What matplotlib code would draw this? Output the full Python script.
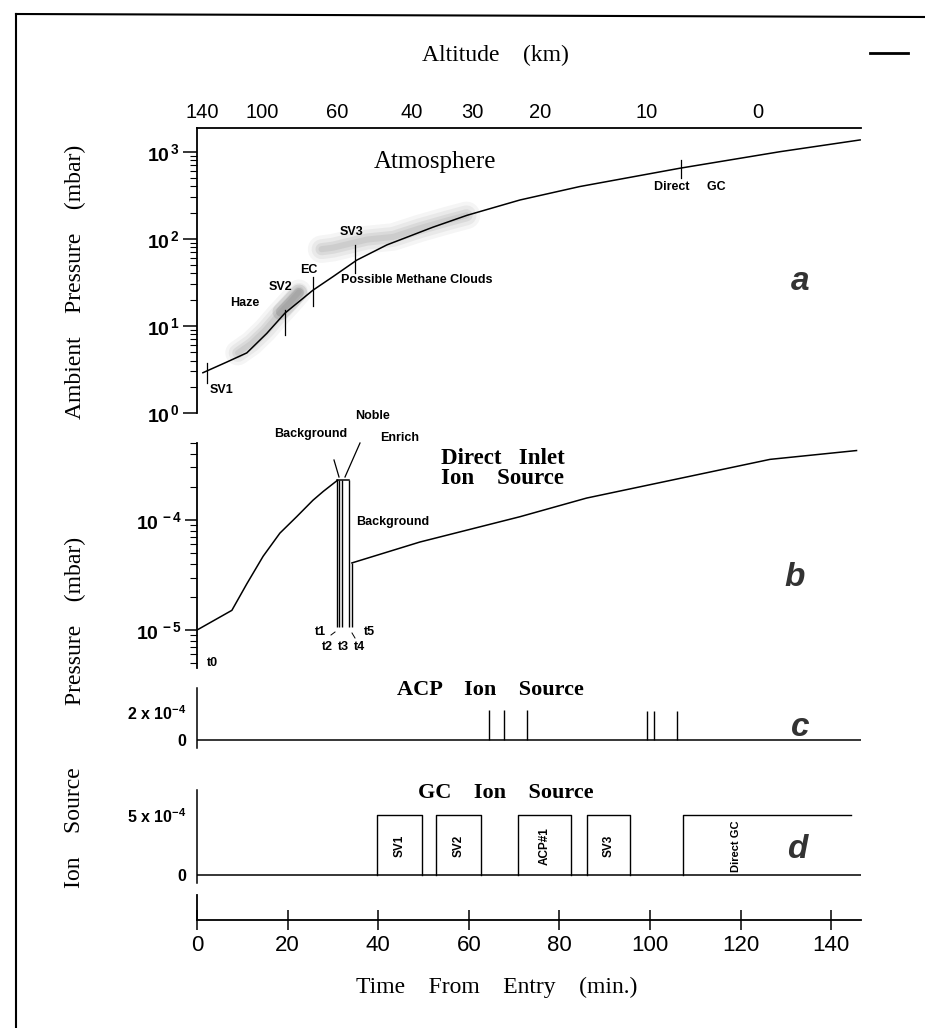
import numpy as np
import matplotlib
matplotlib.use('Agg')
import matplotlib.pyplot as plt
from matplotlib.lines import Line2D
from matplotlib.ticker import LogLocator, NullFormatter

# ---------------- data ----------------
time_ticks = [0, 20, 40, 60, 80, 100, 120, 140]

alt_km = [140, 100, 60, 40, 30, 20, 10, 0]
alt_time = [1.1, 14.3, 30.9, 47.5, 60.7, 75.7, 99.3, 123.8]

atm_time = [1.3, 6.6, 11.0, 15.4, 19.4, 25.6, 30.1, 35.3, 41.9, 52.1, 59.6,
            71.3, 84.5, 106.6, 128.7, 146.4]
atm_pres = [2.9, 3.85, 4.9, 8.2, 14.0, 25.7, 37, 57, 85, 136, 186,
            279, 398, 646, 1000, 1365]

atm_event_time = [2.2, 19.4, 25.6, 34.9, 106.8]
atm_event_up = [0.09, 0.04, 0.15, 0.19, 0.095]
atm_event_dn = [0.14, 0.25, 0.18, 0.13, 0.11]

haze_time = [9.0, 12.0, 15.0, 18.0, 20.5, 22.5]
haze_pres = [4.9, 6.3, 8.9, 13.5, 18.6, 24.5]
haze_dark_time = [18.5, 20.5, 22.5]
haze_dark_pres = [14.5, 18.6, 24.0]
methane_time = [27.5, 30.0, 37.5, 43.3, 49.2, 55.2, 59.5]
methane_pres = [76, 79, 98, 105, 132, 162, 186]

di_time = [0, 7.7, 11.0, 14.6, 18.3, 22.0, 25.6, 27.9, 31.0]
di_pres = [1.0e-5, 1.51e-5, 2.63e-5, 4.68e-5, 7.59e-5, 1.07e-4, 1.51e-4,
           1.82e-4, 2.29e-4]
comb_time = [31.0, 31.4, 32.0, 33.6]
comb_low = 1.07e-5
t5_time = 34.2
bg_time = [34.2, 49.2, 71.3, 86.0, 106.3, 126.5, 145.6]
bg_pres = [4.07e-5, 6.3e-5, 1.07e-4, 1.58e-4, 2.37e-4, 3.55e-4, 4.27e-4]

acp_time = [64.5, 67.8, 72.9, 99.3, 100.9, 106.0]
acp_pres = [2.15e-4, 2.15e-4, 2.15e-4, 2.05e-4, 2.05e-4, 2.05e-4]

gc_start = [39.7, 52.8, 70.9, 86.0, 107.4]
gc_end = [49.6, 62.8, 82.5, 95.7, 144.3]
gc_label = ['SV1', 'SV2', 'ACP#1', 'SV3', 'Direct GC']
gc_label_time = [44.65, 57.8, 76.7, 90.85, 119.0]
gc_level = 5e-4

# ---------------- style ----------------
plt.rcParams['font.family'] = ['Liberation Sans', 'DejaVu Sans']
plt.rcParams['mathtext.fontset'] = 'custom'
plt.rcParams['mathtext.rm'] = 'Liberation Sans:bold'
plt.rcParams['mathtext.it'] = 'Liberation Sans:italic:bold'
plt.rcParams['mathtext.bf'] = 'Liberation Sans:bold'

SERIF = ['Liberation Serif', 'DejaVu Serif']
NARROW = ['Liberation Sans Narrow', 'Liberation Sans', 'DejaVu Sans']
SANS = ['Liberation Sans', 'DejaVu Sans']

W_PX, H_PX = 925, 1028
fig = plt.figure(figsize=(9.25, 10.28), dpi=100)

X_LEFT_PX, X_RIGHT_PX = 197, 860.6
XMAX = 146.5


def rect(top, bot):
    return [X_LEFT_PX / W_PX, 1 - bot / H_PX,
            (X_RIGHT_PX - X_LEFT_PX) / W_PX, (bot - top) / H_PX]


def fx(px):
    return px / W_PX


def fy(py):
    return 1 - py / H_PX


def ftext(px, py, s, **kw):
    kw.setdefault('ha', 'center')
    kw.setdefault('va', 'center')
    return fig.text(fx(px), fy(py), s, **kw)


def fline(p0, p1, lw=0.9):
    fig.add_artist(Line2D([fx(p0[0]), fx(p1[0])], [fy(p0[1]), fy(p1[1])],
                          color='k', lw=lw, transform=fig.transFigure))


def small(px, py, s, **kw):
    kw.setdefault('fontsize', 9)
    return ftext(px, py, s, family=SANS, fontweight='bold', **kw)


LW = 1.1

# ---------------- panel a ----------------
axa = fig.add_axes(rect(128, 413))
axa.set_yscale('log')
axa.set_xlim(0, XMAX)
axa.set_ylim(1, 1871)
for s in ['right', 'bottom']:
    axa.spines[s].set_visible(False)
axa.spines['left'].set_linewidth(1.3)
axa.spines['top'].set_linewidth(1.3)
axa.xaxis.tick_top()
axa.set_xticks(alt_time, [str(v) for v in alt_km])
axa.tick_params(axis='x', length=0, pad=4, labelsize=14.5)
for lab in axa.get_xticklabels():
    lab.set_family(NARROW)
axa.set_yticks([1, 10, 100, 1000],
               [r'10$^{\,0}$', r'10$^{\,1}$', r'10$^{\,2}$', r'10$^{\,3}$'])
axa.yaxis.set_minor_locator(LogLocator(base=10, subs=range(2, 10)))
axa.yaxis.set_minor_formatter(NullFormatter())
axa.tick_params(axis='y', which='major', length=10, width=1.1, labelsize=14, pad=2)
axa.tick_params(axis='y', which='minor', length=5, width=0.8)
for lab in axa.get_yticklabels():
    lab.set_fontweight('bold')

for lw, al in [(18, 0.07), (13, 0.09), (8, 0.12), (4, 0.12)]:
    axa.plot(haze_time, haze_pres, color='0.45', lw=lw, alpha=al,
             solid_capstyle='round', solid_joinstyle='round')
    axa.plot(methane_time, methane_pres, color='0.45', lw=lw * 1.1, alpha=al,
             solid_capstyle='round', solid_joinstyle='round')
for lw, al in [(12, 0.15), (7, 0.2)]:
    axa.plot(haze_dark_time, haze_dark_pres, color='0.35', lw=lw, alpha=al,
             solid_capstyle='round')

axa.plot(atm_time, atm_pres, color='k', lw=LW)
log_atm = np.log10(atm_pres)
for t, up, dn in zip(atm_event_time, atm_event_up, atm_event_dn):
    lp = np.interp(t, atm_time, log_atm)
    axa.plot([t, t], [10 ** (lp - dn), 10 ** (lp + up)], color='k', lw=0.9)

small(222, 390, 'SV1')
small(245, 303, 'Haze')
small(280, 287, 'SV2')
small(309, 270, 'EC')
small(352, 232, 'SV3')
small(341, 280, 'Possible Methane Clouds', ha='left')
small(690, 187, 'Direct     GC')
ftext(435, 162, 'Atmosphere', family=SERIF, fontsize=18)
ftext(800, 282, 'a', family=SANS, fontsize=24, fontweight='bold', style='italic',
      color='0.2')

# ---------------- panel b ----------------
axb = fig.add_axes(rect(443, 668))
axb.set_yscale('log')
axb.set_xlim(0, XMAX)
axb.set_ylim(4.52e-6, 5.0e-4)
for s in ['right', 'top', 'bottom']:
    axb.spines[s].set_visible(False)
axb.spines['left'].set_linewidth(1.3)
axb.set_xticks([])
axb.set_yticks([1e-5, 1e-4], [r'10$^{\,-5}$', r'10$^{\,-4}$'])
axb.yaxis.set_minor_locator(LogLocator(base=10, subs=range(2, 10)))
axb.yaxis.set_minor_formatter(NullFormatter())
axb.tick_params(axis='y', which='major', length=9, width=1.1, labelsize=14, pad=2)
axb.tick_params(axis='y', which='minor', length=5, width=0.8)
for lab in axb.get_yticklabels():
    lab.set_fontweight('bold')

axb.plot(di_time, di_pres, color='k', lw=LW)
axb.plot([comb_time[0], comb_time[-1]], [di_pres[-1], di_pres[-1]], color='k', lw=LW)
axb.vlines(comb_time, comb_low, di_pres[-1], color='k', lw=1.0)
axb.vlines([t5_time], comb_low, bg_pres[0], color='k', lw=1.0)
axb.plot(bg_time, bg_pres, color='k', lw=LW)

small(311, 434, 'Background')
small(372, 416, 'Noble')
small(400, 438, 'Enrich')
small(393, 522, 'Background')
fline((334, 460), (339, 477))
fline((360, 443), (345, 477))
ftext(441, 458, 'Direct   Inlet', family=SERIF, fontsize=16.5, fontweight='bold',
      ha='left')
ftext(441, 478, 'Ion    Source', family=SERIF, fontsize=16.5, fontweight='bold',
      ha='left')
small(320, 632, 't1')
small(327, 647, 't2')
small(343, 647, 't3')
small(360, 647, 't4')
small(369, 632, 't5')
small(212, 663, 't0')
fline((331, 635), (335, 632), lw=0.7)
fline((352, 633), (355, 638), lw=0.7)
ftext(795, 577, 'b', family=SANS, fontsize=24, fontweight='bold', style='italic',
      color='0.2')

# ---------------- panel c ----------------
axc = fig.add_axes(rect(688, 748))
axc.set_xlim(0, XMAX)
axc.set_ylim(-0.57e-4, 3.71e-4)
for s in ['right', 'top', 'bottom']:
    axc.spines[s].set_visible(False)
axc.spines['left'].set_linewidth(1.1)
axc.set_xticks([])
axc.set_yticks([0, 2e-4], ['0', r'2 x 10$^{-4}$'])
axc.tick_params(axis='y', length=0, pad=8, labelsize=11.5)
for lab in axc.get_yticklabels():
    lab.set_fontweight('bold')
axc.plot([0, XMAX], [0, 0], color='k', lw=LW)
axc.vlines(acp_time, 0, acp_pres, color='k', lw=1.0)
ftext(490, 690, 'ACP    Ion    Source', family=SERIF, fontsize=16, fontweight='bold')
ftext(800, 727, 'c', family=SANS, fontsize=24, fontweight='bold', style='italic',
      color='0.2')

# ---------------- panel d ----------------
axd = fig.add_axes(rect(790, 883))
axd.set_xlim(0, XMAX)
axd.set_ylim(-0.67e-4, 7.08e-4)
for s in ['right', 'top', 'bottom']:
    axd.spines[s].set_visible(False)
axd.spines['left'].set_linewidth(1.1)
axd.set_xticks([])
axd.set_yticks([0, gc_level], ['0', r'5 x 10$^{-4}$'])
axd.tick_params(axis='y', length=0, pad=8, labelsize=11.5)
for lab in axd.get_yticklabels():
    lab.set_fontweight('bold')
axd.plot([0, XMAX], [0, 0], color='k', lw=LW)
for i, (s, e) in enumerate(zip(gc_start, gc_end)):
    if i < len(gc_start) - 1:
        axd.plot([s, s, e, e], [0, gc_level, gc_level, 0], color='k', lw=1.0)
    else:
        axd.plot([s, s, e], [0, gc_level, gc_level], color='k', lw=1.0)
for t, lab in zip(gc_label_time, gc_label):
    axd.text(t, 2.4e-4, lab, rotation=90, ha='center', va='center',
             family=SANS, fontweight='bold', fontsize=8.5 if len(lab) < 6 else 8)
ftext(506, 793, 'GC    Ion    Source', family=SERIF, fontsize=16, fontweight='bold')
ftext(797, 850, 'd', family=SANS, fontsize=24, fontweight='bold', style='italic',
      color='0.2')

# ---------------- panel e (time axis) ----------------
axe = fig.add_axes(rect(895, 920))
axe.set_xlim(0, XMAX)
axe.set_ylim(0, 1)
for s in ['right', 'top']:
    axe.spines[s].set_visible(False)
axe.spines['left'].set_linewidth(1.3)
axe.spines['bottom'].set_linewidth(1.3)
axe.set_yticks([])
axe.set_xticks(time_ticks, [str(v) for v in time_ticks])
axe.tick_params(axis='x', direction='inout', length=14, width=1.1, labelsize=16, pad=4)
for lab in axe.get_xticklabels():
    lab.set_family(NARROW)

# ---------------- titles / labels ----------------
ftext(495, 55, 'Altitude    (km)', family=SERIF, fontsize=17)
ftext(497, 987, 'Time    From    Entry    (min.)', family=SERIF, fontsize=17)
ftext(75, 282, 'Ambient    Pressure    (mbar)', family=SERIF, fontsize=17, rotation=90)
ftext(75, 621, 'Pressure    (mbar)', family=SERIF, fontsize=17, rotation=90)
ftext(75, 828, 'Ion    Source', family=SERIF, fontsize=17, rotation=90)

# frame lines of the scanned page
fline((16, 14), (925, 17), lw=1.5)
fline((16, 14), (16, 1028), lw=1.5)
fline((870, 53), (908, 53), lw=2)

fig.savefig('out.png', dpi=100)
